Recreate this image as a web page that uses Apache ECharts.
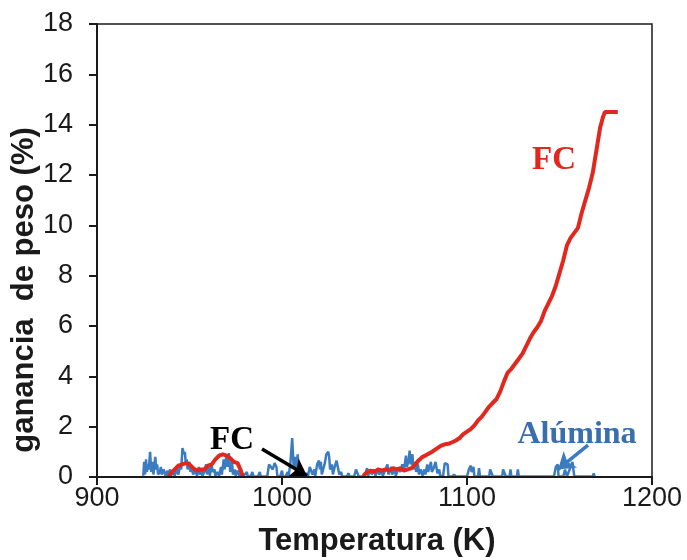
<!DOCTYPE html>
<html><head><meta charset="utf-8">
<script src="https://cdn.jsdelivr.net/npm/echarts@6/dist/echarts.min.js"></script>
<style>html,body{margin:0;padding:0;background:#fff}#c{width:687px;height:560px}</style>
</head><body><div id="c"></div>
<script>
// ---- data ----
const xTicks = [900, 1000, 1100, 1200];
const yTicks = [0, 2, 4, 6, 8, 10, 12, 14, 16, 18];
// FC (red) curve: [Temperatura K, ganancia %]
const fcData = [
 [938.5,0],[940,0.15],[942,0.3],[944,0.45],[946,0.5],[948,0.55],[950,0.5],[952,0.35],[954,0.25],[956,0.3],[958,0.3],
 [960,0.45],[962,0.5],[964,0.7],[966,0.85],[968,0.9],[970,0.85],[972,0.75],[974,0.6],[976,0.55],[977.5,0.3],[979,0],
 null,
 [1044,0.05],[1046,0.2],[1048,0.25],[1050,0.2],[1052,0.3],[1054,0.25],[1056,0.3],[1058,0.25],[1060,0.35],[1062,0.3],
 [1064,0.35],[1066,0.25],[1068,0.3],[1070,0.35],[1072,0.5],[1074,0.67],[1076,0.8],[1078,0.87],[1080,0.95],[1082,1.05],
 [1084,1.15],[1086,1.25],[1088,1.3],[1090,1.32],[1092,1.38],[1094,1.45],[1096,1.55],[1098,1.7],[1100,1.8],[1102,1.9],
 [1104,2.05],[1106,2.25],[1108,2.4],[1110,2.6],[1112,2.8],[1114,2.95],[1116,3.1],[1118,3.4],[1120,3.8],[1122,4.15],
 [1124,4.3],[1126,4.5],[1128,4.7],[1130,4.9],[1132,5.2],[1134,5.5],[1136,5.75],[1138,5.95],[1140,6.2],[1142,6.6],
 [1144,6.9],[1146,7.2],[1148,7.6],[1150,8.1],[1152,8.6],[1154,9.2],[1156,9.5],[1158,9.7],[1160,9.9],[1161,10.2],
 [1162,10.5],[1164,11.0],[1166,11.5],[1168,12.1],[1170,13.0],[1172,13.9],[1173.5,14.3],[1174.5,14.5],[1181.5,14.5]
];
// Alúmina (blue) curve: [Temperatura K, ganancia %]
const aluminaData = [
 [925,0.05],[925.5,0.6],[926,0.1],[926.5,0.7],[927,0.2],[927.5,0.5],[928,0.3],[928.7,1.0],[929.3,0.2],[930,0.6],[930.5,0.1],
 [931,0.4],[931.5,0.8],[932,0.3],[932.5,0.5],[933,0.1],[934,0.2],[934.5,0.4],[935,0.1],[936,0.3],[937,0.05],[938,0.25],
 [938.5,0.1],[939.5,0.3],[940,0.05],[941,0.2],[942,0.05],
 [943,0.3],[944,0.1],[945,0.5],[945.5,0.3],[946.2,1.15],[947,0.9],[947.5,1.0],[948,0.5],[948.5,0.7],[949,0.3],[950,0.6],
 [950.5,0.2],[951,0.4],[952,0.1],
 [953,0.3],[954,0.05],[955,0.4],[955.5,0.1],[956.5,0.3],[957,0.05],[958,0.2],[959,0.5],[959.5,0.1],[960.5,0.4],[961,0.05],
 [962,0.5],[962.5,0.2],[963.5,0.3],[964,0.05],[965,0.2],[966,0.05],
 [967,0.4],[967.5,0.1],[968.5,0.7],[969,0.3],[970,0.9],[970.5,0.4],[971.3,0.95],[972,0.2],[973,0.6],[973.5,0.1],[974.5,0.3],
 [975,0.05],[976,0.25],[977,0.05],[978.5,0.15],[979,0.02],
 [981,0.2],[981.5,0.02],[983,0.02],[984,0.2],[984.5,0.02],[987,0.02],[988,0.2],[988.5,0.02],[992,0.02],[993,0.5],[994,0.55],
 [995,0.3],[996,0.55],[997,0.4],[997.5,0.02],[999,0.02],[1000,0.25],[1000.5,0.02],[1002,0.02],
 [1003,0.2],[1003.5,0.02],[1004.5,0.5],[1005.5,1.55],[1006.3,0.4],[1007,0.8],[1007.5,0.2],[1008.5,0.9],[1009,0.1],[1010,0.02],
 [1012,0.02],[1013,0.15],[1014,0.02],[1015,0.4],[1016,0.45],[1016.5,0.1],[1017.5,0.3],[1018,0.05],[1019,0.5],[1020,0.65],
 [1020.5,0.3],[1021,0.6],[1021.5,0.1],[1023,0.5],[1024,0.9],[1025,1.0],[1025.5,0.8],[1026,0.3],[1027,0.5],[1027.5,0.1],
 [1028.5,0.4],[1029.5,0.65],[1030.5,0.6],[1031,0.1],[1032,0.2],[1032.5,0.02],[1035,0.02],[1036,0.15],[1036.5,0.02],
 [1039,0.02],[1040,0.3],[1041,0.35],[1041.5,0.02],[1043,0.02],
 [1045,0.1],[1046,0.35],[1046.5,0.05],[1048,0.3],[1048.5,0.1],[1050,0.3],[1050.5,0.05],[1052,0.35],[1052.5,0.1],[1054,0.25],
 [1054.5,0.05],[1056,0.3],[1057,0.5],[1057.5,0.1],[1059,0.4],[1059.5,0.1],[1061,0.3],[1061.5,0.05],[1063,0.35],[1064,0.2],
 [1065,0.5],[1066,0.3],[1067,0.85],[1067.5,0.4],[1068.5,0.7],[1069,1.05],[1069.5,0.5],[1070.5,0.9],[1071,0.3],[1072,0.6],
 [1072.5,0.2],[1073.5,0.5],[1074,0.1],[1075,0.3],[1076,0.05],
 [1077,0.3],[1077.5,0.1],[1078.5,0.5],[1079,0.2],[1080,0.45],[1080.5,0.6],[1081,0.2],[1082,0.35],[1083,0.6],[1083.5,0.55],
 [1084,0.15],[1085,0.3],[1085.5,0.05],[1087,0.02],[1088,0.55],[1089,0.6],[1089.5,0.5],[1090,0.02],[1092,0.02],[1093,0.1],
 [1094,0.02],
 [1100,0.02],[1101,0.3],[1102,0.45],[1102.5,0.2],[1103.5,0.4],[1104,0.02],[1106,0.02],[1106.5,0.35],[1107,0.02],[1112,0.02],
 [1112.5,0.3],[1113.5,0.35],[1114,0.02],[1119,0.02],[1119.5,0.3],[1120.5,0.35],[1121,0.02],[1123,0.02],[1123.5,0.3],
 [1124,0.02],[1127,0.02],[1127.5,0.3],[1128,0.02],
 [1147,0.02],[1148,0.4],[1149,0.5],[1149.5,0.02],[1152,0.02],[1153,0.3],[1153.5,0.35],[1154,0.02],[1155,0.02],[1156,0.4],
 [1157,0.6],[1157.5,0.3],[1158,0.02],[1168,0.02],[1168.5,0.15],[1169,0.02]
];
// annotation arrows (data coordinates: start, end)
const fcArrow = [[989.2, 1.11], [1013.5, 0.05]];
const aluArrow = [[1165.4, 1.27], [1149.2, 0.3]];

const RED = '#e0281e', BLUE = '#3b7cc0', INK = '#1a1a1a';
const chart = echarts.init(document.getElementById('c'), null, {renderer: 'canvas'});
chart.setOption({
  animation: false,
  backgroundColor: '#fff',
  grid: {left: 97, right: 35, top: 24, bottom: 83, show: true, borderColor: INK, borderWidth: 1.5, backgroundColor: 'transparent'},
  xAxis: {
    type: 'value', min: xTicks[0], max: xTicks[xTicks.length - 1], interval: 100, z: 5,
    axisLine: {lineStyle: {color: INK, width: 2}},
    axisTick: {show: true, length: 8, lineStyle: {color: INK, width: 2}},
    axisLabel: {color: INK, fontSize: 27, fontFamily: 'Liberation Sans', margin: 8, formatter: v => String(v)},
    splitLine: {show: false}
  },
  yAxis: {
    type: 'value', min: yTicks[0], max: yTicks[yTicks.length - 1], interval: 2, z: 5,
    axisLine: {show: true, lineStyle: {color: INK, width: 2}},
    axisTick: {show: true, length: 8, lineStyle: {color: INK, width: 2}},
    axisLabel: {color: INK, fontSize: 27, fontFamily: 'Liberation Sans', margin: 24, formatter: v => String(v)},
    splitLine: {show: false}
  },
  series: [
    {
      name: 'Alúmina', type: 'line', data: aluminaData, showSymbol: false, z: 2,
      lineStyle: {color: BLUE, width: 2.5}, itemStyle: {color: BLUE},
      markLine: {
        silent: true, symbol: ['none', 'arrow'], symbolSize: 16, label: {show: false},
        lineStyle: {color: BLUE, width: 3.5, type: 'solid'},
        data: [[{coord: aluArrow[0]}, {coord: aluArrow[1]}]]
      }
    },
    {
      name: 'FC', type: 'line', data: fcData, showSymbol: false, connectNulls: false, z: 3,
      lineStyle: {color: RED, width: 4}, itemStyle: {color: RED},
      markLine: {
        silent: true, symbol: ['none', 'arrow'], symbolSize: 16, label: {show: false},
        lineStyle: {color: '#000', width: 3.5, type: 'solid'},
        data: [[{coord: fcArrow[0]}, {coord: fcArrow[1]}]]
      }
    }
  ],
  graphic: [
    {type: 'text', x: 24, y: 290, rotation: Math.PI / 2,
     style: {text: 'ganancia  de peso (%)', font: 'bold 31px "Liberation Sans"', fill: INK, textAlign: 'center', textVerticalAlign: 'middle'}},
    {type: 'text', x: 377, y: 541,
     style: {text: 'Temperatura (K)', font: 'bold 31px "Liberation Sans"', fill: INK, textAlign: 'center', textVerticalAlign: 'middle'}},
    {type: 'text', x: 232, y: 440,
     style: {text: 'FC', font: 'bold 33px "Liberation Serif"', fill: '#000', textAlign: 'center', textVerticalAlign: 'middle'}},
    {type: 'text', x: 554, y: 160,
     style: {text: 'FC', font: 'bold 33px "Liberation Serif"', fill: RED, textAlign: 'center', textVerticalAlign: 'middle'}},
    {type: 'text', x: 577, y: 435,
     style: {text: 'Alúmina', font: 'bold 32px "Liberation Serif"', fill: '#3a6fae', textAlign: 'center', textVerticalAlign: 'middle'}}
  ]
});
</script></body></html>
